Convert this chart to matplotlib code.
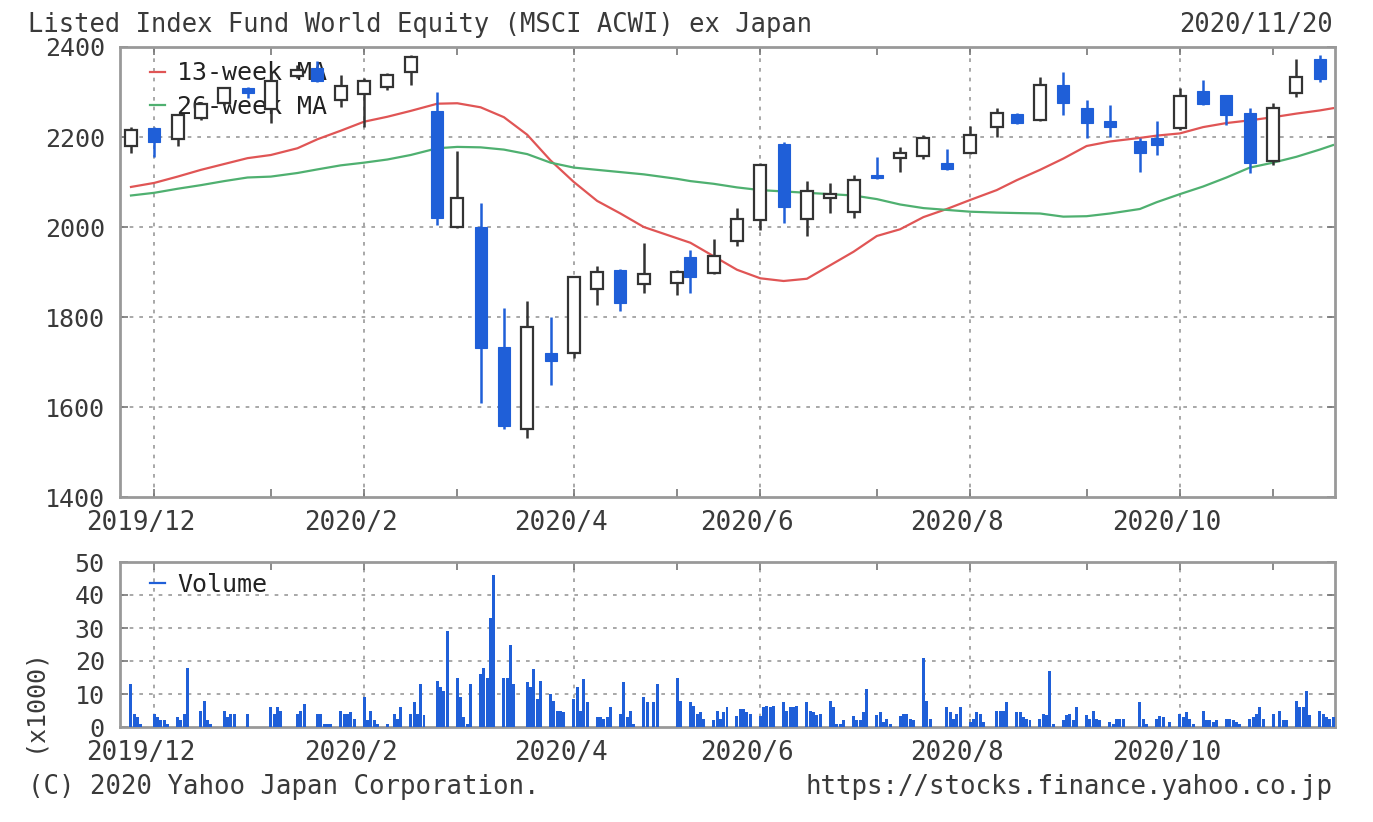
import numpy as np
import pandas as pd
import matplotlib
matplotlib.use('Agg')
import matplotlib.pyplot as plt
import matplotlib.dates as mdates
from matplotlib.lines import Line2D

plt.rcParams['font.family'] = ['DejaVu Sans Mono']

# market holidays (Tokyo) in the period
holidays = ['2019-12-31', '2020-01-01', '2020-01-02', '2020-01-03', '2020-01-13',
            '2020-02-11', '2020-02-24', '2020-03-20', '2020-04-29', '2020-05-04',
            '2020-05-05', '2020-05-06', '2020-07-23', '2020-07-24', '2020-08-10',
            '2020-09-21', '2020-09-22', '2020-11-03']

# weekly candles, week of 2019-11-25 .. week of 2020-11-16
opens = [2180, 2220, 2196, 2242, 2276, 2308, 2262, 2335, 2353, 2282,
         2295, 2310, 2345, 2258, 2000, 2000, 1733, 1550, 1720, 1720,
         1862, 1905, 1873, 1875, 1933, 1898, 1969, 2016, 2184, 2018,
         2064, 2033, 2116, 2154, 2157, 2143, 2165, 2222, 2252, 2238,
         2316, 2264, 2236, 2192, 2198, 2220, 2302, 2293, 2253, 2147,
         2298, 2373]
highs = [2222, 2222, 2252, 2278, 2312, 2310, 2345, 2360, 2369, 2338,
         2330, 2342, 2383, 2300, 2168, 2053, 1820, 1835, 1800, 1892,
         1913, 1907, 1965, 1904, 1949, 1973, 2042, 2142, 2189, 2102,
         2098, 2116, 2156, 2178, 2205, 2173, 2224, 2264, 2253, 2333,
         2344, 2282, 2271, 2198, 2236, 2309, 2327, 2294, 2264, 2276,
         2373, 2382]
lows = [2165, 2155, 2180, 2238, 2270, 2287, 2232, 2330, 2322, 2266,
        2222, 2305, 2316, 2005, 1998, 1608, 1552, 1530, 1648, 1709,
        1827, 1813, 1853, 1849, 1853, 1896, 1958, 1993, 2009, 1980,
        2031, 2020, 2106, 2122, 2152, 2126, 2162, 2200, 2228, 2236,
        2249, 2198, 2200, 2122, 2160, 2215, 2272, 2227, 2120, 2138,
        2289, 2322]
closes = [2215, 2188, 2249, 2274, 2309, 2298, 2324, 2348, 2325, 2313,
          2325, 2337, 2377, 2020, 2065, 1732, 1558, 1778, 1702, 1888,
          1900, 1832, 1896, 1900, 1890, 1936, 2018, 2138, 2044, 2080,
          2074, 2104, 2108, 2164, 2198, 2130, 2204, 2253, 2232, 2316,
          2276, 2231, 2222, 2165, 2183, 2291, 2274, 2249, 2142, 2264,
          2333, 2329]

# moving averages read at each candle, plus the last day
ma13 = [2089, 2098, 2112, 2127, 2140, 2153, 2160, 2175, 2195, 2214,
        2234, 2245, 2258, 2274, 2275, 2266, 2244, 2205, 2148, 2100,
        2058, 2030, 2000, 1975, 1965, 1935, 1905, 1886, 1880, 1885,
        1915, 1945, 1980, 1995, 2022, 2040, 2060, 2082, 2104, 2127,
        2152, 2180, 2190, 2198, 2203, 2208, 2222, 2231, 2237, 2244,
        2252, 2259, 2264]
ma26 = [2070, 2076, 2085, 2093, 2102, 2110, 2112, 2120, 2128, 2137,
        2143, 2150, 2160, 2175, 2178, 2177, 2172, 2162, 2143, 2132,
        2127, 2122, 2117, 2107, 2102, 2096, 2088, 2082, 2079, 2076,
        2073, 2070, 2062, 2050, 2042, 2038, 2034, 2032, 2031, 2030,
        2023, 2024, 2030, 2040, 2055, 2073, 2090, 2110, 2132, 2143,
        2156, 2172, 2182]

# daily volume (x1000), Mon..Fri for each week
volume = [
    [13, 4, 3, 1, 0], [4, 3, 2, 2, 1], [3, 2, 4, 18, 0], [5, 8, 2, 1, 0],
    [5, 3, 4, 4, 0], [4, 0, 0, 0, 0], [6, 4, 6, 5, 0], [0, 4, 5, 7, 0],
    [4, 4, 1, 1, 1], [5, 4, 4, 4.5, 2.5], [9, 2, 5, 2, 1], [1, 0, 4, 2.5, 6],
    [4, 7.5, 4, 13, 3.6], [0, 14, 12, 11, 29], [15, 9, 3, 1, 13], [16, 18, 15, 33, 46],
    [15, 15, 25, 13, 0], [13.5, 12, 17.5, 8.5, 14], [10, 8, 5, 5, 4.5], [8.5, 12, 5, 14.5, 7.5],
    [3, 3, 2.5, 3, 6], [4, 13.5, 3, 5, 1], [9, 7.5, 0, 7.5, 13], [0, 0, 0, 15, 8],
    [7.5, 6.5, 4, 4.5, 2.5], [2, 5, 2.5, 4.5, 6], [3.4, 5.5, 5.5, 4.5, 4], [3.4, 6, 6.5, 6, 6.5],
    [7.5, 5, 6, 6, 6.5], [7.5, 5, 4.5, 3.6, 4], [8, 6, 1, 1, 2], [3.4, 2, 2, 4.5, 11.5],
    [3.6, 4.5, 1.5, 2.5, 1], [3.4, 4, 4, 2.5, 2], [21, 8, 2.5, 0, 0], [6, 4.5, 2.5, 4, 6],
    [1.5, 2.5, 4.5, 4, 1.5], [0, 5, 5, 5, 7.5], [4.5, 4.5, 3, 2.5, 2], [2.5, 4, 3.6, 17, 1],
    [2, 3.6, 4, 2, 6], [3.6, 2.5, 5, 2.5, 2], [1.5, 1, 2.5, 2.5, 2.5], [0, 0, 7.5, 2.5, 1],
    [2.5, 3.4, 3, 0, 1.5], [4, 3, 4.5, 2.5, 1], [5, 2, 2, 1.5, 2], [2.5, 2.5, 2, 1.5, 1],
    [2.5, 3, 4, 6, 2.5], [4, 0, 5, 2, 2], [8, 6, 6, 11, 3.6], [5, 4, 3, 2.5, 3],
]

hol = set(pd.to_datetime(holidays))
mondays = pd.date_range('2019-11-25', periods=len(opens), freq='7D')
candle_dates = []
for m in mondays:
    for k in range(5):
        d = m + pd.Timedelta(days=k)
        if d not in hol:
            candle_dates.append(d)
            break
candle_dates = pd.DatetimeIndex(candle_dates)
ma_dates = candle_dates.append(pd.DatetimeIndex(['2020-11-20']))

vol_dates = []
vol_vals = []
for m, week in zip(mondays, volume):
    for k, v in enumerate(week):
        vol_dates.append(m + pd.Timedelta(days=k))
        vol_vals.append(v)

blue = '#1f5fd8'
edge = '#333333'
grid = dict(color='#999999', linestyle=(0, (2.2, 3.6)), linewidth=1.2)
txt = '#3a3a3a'

W, H = 1373, 822
fig = plt.figure(figsize=(W / 100, H / 100), dpi=100)
ax = fig.add_axes([120 / W, 1 - 497 / H, 1215 / W, 450 / H])
axv = fig.add_axes([120 / W, 1 - 727 / H, 1215 / W, 165 / H])

xlo = mdates.date2num(pd.Timestamp('2019-11-25')) - 3.3
xhi = mdates.date2num(pd.Timestamp('2020-11-20')) + 0.6

# month ticks at first candle of each month
month_ticks = []
label_ticks = []
labels = []
seen = set()
for d in candle_dates:
    key = (d.year, d.month)
    if key in seen or d < pd.Timestamp('2019-12-01'):
        continue
    seen.add(key)
    month_ticks.append(mdates.date2num(d))
    if d.month % 2 == 0:
        label_ticks.append(mdates.date2num(d))
        labels.append(f'{d.year}/{d.month}')

for a in (ax, axv):
    a.set_xlim(xlo, xhi)
    a.set_xticks(month_ticks)
    a.set_xticklabels([''] * len(month_ticks))
    # labels sit a little left of their month tick
    a.set_xticks([t - 3.9 for t in label_ticks], minor=True)
    a.set_xticklabels(labels, minor=True)
    for t in label_ticks:
        a.axvline(t, zorder=1, **grid)
    for s in a.spines.values():
        s.set_color('#999999')
        s.set_linewidth(2)
    a.tick_params(which='both', direction='in', length=6, width=1.2,
                  color='#777777', top=True, right=True, labelcolor=txt)
    a.tick_params(axis='x', which='minor', length=0, pad=9, labelsize=18.6,
                  top=False)
    a.tick_params(axis='y', pad=11, labelsize=18)

# candles
x = mdates.date2num(candle_dates)
for xi, o, h, l, c in zip(x, opens, highs, lows, closes):
    up = c >= o
    col = edge if up else blue
    ax.vlines(xi, l, h, color=col, linewidth=1.8, zorder=3)
    ax.bar(xi, max(abs(c - o), 2), bottom=min(o, c), width=3.6,
           facecolor='white' if up else blue, edgecolor=col,
           linewidth=1.6 if up else 0.8, zorder=4)

xm = mdates.date2num(ma_dates)
ax.plot(xm, ma13, color='#e05555', linewidth=1.6, zorder=2)
ax.plot(xm, ma26, color='#4fb070', linewidth=1.6, zorder=2)

ax.set_ylim(1400, 2400)
ax.set_yticks(range(1400, 2401, 200))
for yv in range(1600, 2400, 200):
    ax.axhline(yv, zorder=1, **grid)

handles = [Line2D([], [], color='#e05555', linewidth=1.6),
           Line2D([], [], color='#4fb070', linewidth=1.6)]
leg = ax.legend(handles, ['13-week MA', '26-week MA'], loc='upper left',
                bbox_to_anchor=(0.006, 1.018), frameon=False, fontsize=18,
                handlelength=0.6, handletextpad=0.5, labelspacing=0.38)
leg.set_zorder(2.5)
for t in leg.get_texts():
    t.set_color('#222222')

# volume
axv.bar(mdates.date2num(pd.DatetimeIndex(vol_dates)), vol_vals, width=0.9,
        color=blue, zorder=3)
axv.set_ylim(0, 50)
axv.set_yticks(range(0, 51, 10))
for yv in range(10, 50, 10):
    axv.axhline(yv, zorder=1, **grid)
lv = axv.legend([Line2D([], [], color=blue, linewidth=1.6)], ['Volume'],
                loc='upper left', bbox_to_anchor=(0.006, 1.07), frameon=False,
                fontsize=18, handlelength=0.6, handletextpad=0.5)
for t in lv.get_texts():
    t.set_color('#222222')

fig.text(28 / W, 1 - 25 / H, 'Listed Index Fund World Equity (MSCI ACWI) ex Japan',
         fontsize=18.4, color=txt, ha='left', va='center')
fig.text(1333 / W, 1 - 25 / H, '2020/11/20', fontsize=18.4, color=txt,
         ha='right', va='center')
fig.text(28 / W, 1 - 787 / H, '(C) 2020 Yahoo Japan Corporation.', fontsize=18.5,
         color=txt, ha='left', va='center')
fig.text(1333 / W, 1 - 787 / H, 'https://stocks.finance.yahoo.co.jp', fontsize=18.5,
         color=txt, ha='right', va='center')
fig.text(33 / W, 1 - 700 / H, '(x1000)', fontsize=18, color=txt, rotation=90,
         ha='center', va='center')

fig.savefig('out.png', dpi=100, facecolor='white')
